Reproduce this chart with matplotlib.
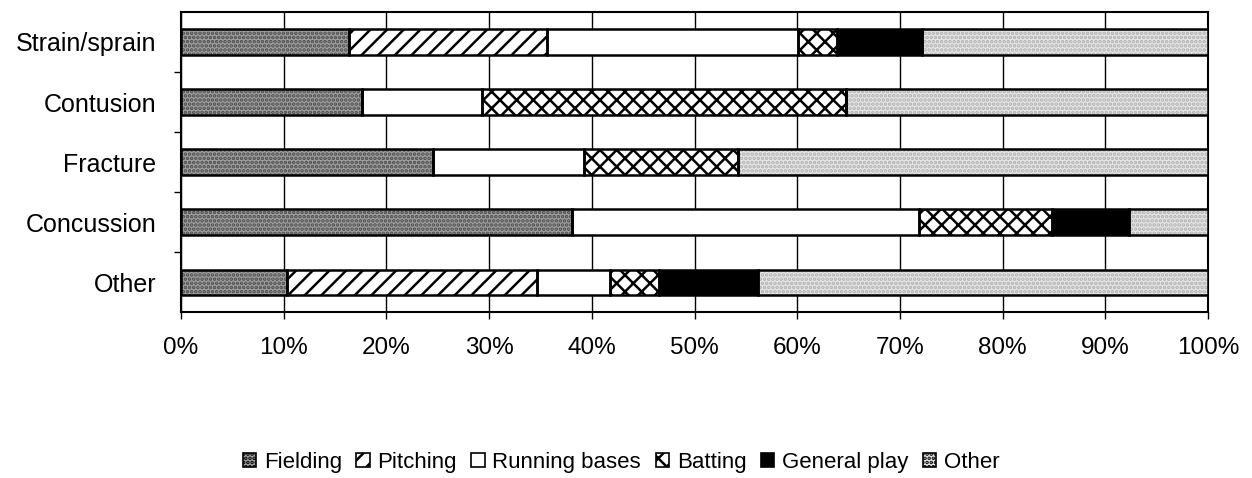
import matplotlib
matplotlib.use("Agg")
import matplotlib.pyplot as plt
import numpy as np

plt.rcParams['font.family'] = ['Liberation Sans', 'DejaVu Sans']
plt.rcParams['hatch.linewidth'] = 1.8

categories = ["Strain/sprain", "Contusion", "Fracture", "Concussion", "Other"]
series_names = ["Fielding", "Pitching", "Running bases", "Batting", "General play", "Other"]
fielding = [16.4, 17.6, 24.5, 38.1, 10.3]
pitching = [19.2, 0.0, 0.0, 0.0, 24.4]
running = [24.5, 11.7, 14.7, 33.7, 7.1]
batting = [3.8, 35.4, 15.0, 13.0, 4.7]
general = [8.2, 0.0, 0.0, 7.5, 9.7]
other = [27.9, 35.3, 45.8, 7.7, 43.8]
xtick_labels = ["0%", "10%", "20%", "30%", "40%", "50%", "60%", "70%", "80%", "90%", "100%"]

series = [fielding, pitching, running, batting, general, other]
styles = [
    dict(face="#a0a0a0", hatchc="#4a4a4a", hatch="...."),
    dict(face="white", hatchc="black", hatch="//"),
    dict(face="white", hatchc="white", hatch=None),
    dict(face="white", hatchc="black", hatch="xx"),
    dict(face="black", hatchc="black", hatch=None),
    dict(face="#e6e6e6", hatchc="#b0b0b0", hatch="...."),
]

fig = plt.figure(figsize=(12.52, 4.78), dpi=100)
ax = fig.add_axes([0.1446, 0.347, 0.8204, 0.628])

y = np.arange(len(categories))
left = np.zeros(len(categories))
handles = []
for name, vals, st in zip(series_names, series, styles):
    vals = np.array(vals)
    ax.barh(y, vals, left=left, height=0.42, color=st["face"],
            edgecolor=st["hatchc"], hatch=st["hatch"], linewidth=0, zorder=3)
    ax.barh(y, vals, left=left, height=0.42, facecolor="none",
            edgecolor="black", linewidth=1.8, zorder=4)
    left += vals
    handles.append(matplotlib.patches.Patch(facecolor=st["face"], edgecolor="black",
                                            hatch=st["hatch"], linewidth=1.2, label=name))

ax.set_xlim(0, 100)
ax.set_ylim(4.5, -0.5)
ax.set_xticks(np.arange(0, 101, 10))
ax.set_xticklabels(xtick_labels, fontsize=17.5)
ax.tick_params(axis='x', length=5, width=1, color="black", pad=13)
ax.set_yticks(y)
ax.set_yticklabels(categories, fontsize=18)
ax.tick_params(axis='y', which='major', length=0, pad=18)
ax.set_yticks(np.arange(0.5, 4.0, 1.0), minor=True)
ax.tick_params(axis='y', which='minor', length=5, width=1, color="black")
ax.grid(axis='x', color='black', linewidth=1.0, zorder=0)
for s in ax.spines.values():
    s.set_linewidth(1.5)
    s.set_color("black")

fig.legend(handles=handles, loc='center', bbox_to_anchor=(0.496, 0.033), ncol=6,
           frameon=False, fontsize=16, handlelength=0.6, handleheight=0.6,
           handletextpad=0.35, columnspacing=0.65, borderpad=0, borderaxespad=0)

fig.savefig("out.png", dpi=100)
